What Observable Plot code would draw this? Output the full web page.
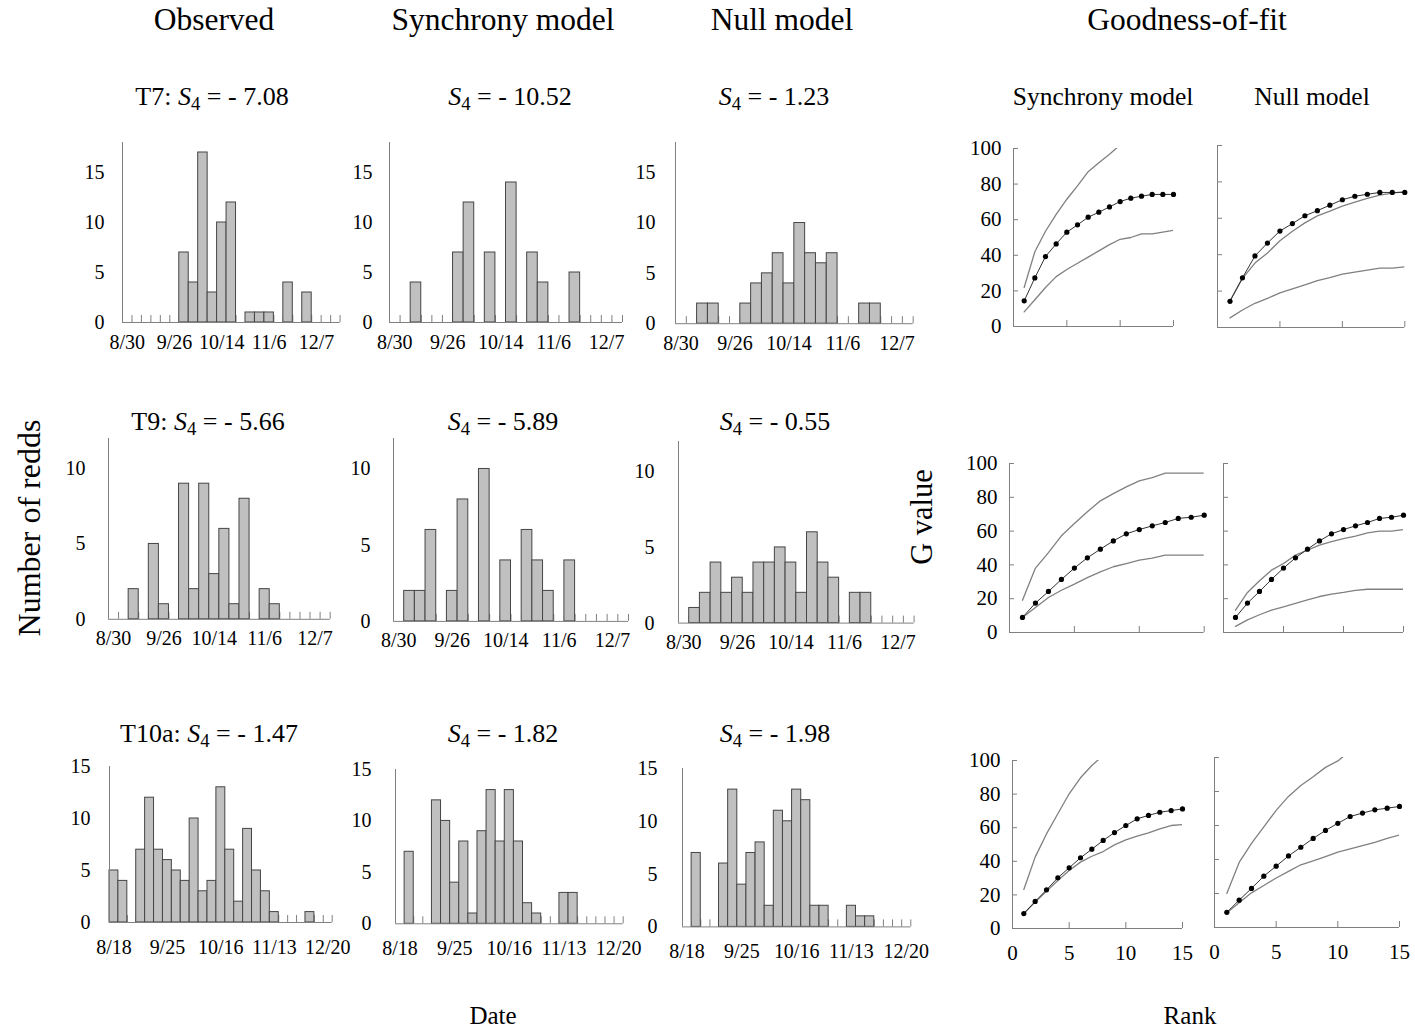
<!DOCTYPE html>
<html><head><meta charset="utf-8">
<script src="https://cdn.jsdelivr.net/npm/d3@7"></script>
<script src="https://cdn.jsdelivr.net/npm/@observablehq/plot@0.6"></script>
<style>
body{margin:0;background:#fff;}
#fig{position:relative;width:1415px;height:1033px;font-family:"Liberation Serif","Times New Roman",serif;color:#000;overflow:hidden;background:#fff;}
.t{position:absolute;white-space:nowrap;transform:translate(-50%,-50%);line-height:1;}
.v{position:absolute;white-space:nowrap;transform:translate(-50%,-50%) rotate(-90deg);line-height:1;}
.s4 i{font-style:italic;}
.s4 .sb{font-size:0.72em;position:relative;top:0.28em;}
</style></head><body><div id="fig"></div>
<script>
const FONT = '"Liberation Serif","Times New Roman",serif';

// ---------- Date tick labels ----------
const datesAugSep = ["8/30","9/26","10/14","11/6","12/7"];   // every 5th bin
const datesT10a   = ["8/18","9/25","10/16","11/13","12/20"]; // every 6th bin

// ---------- Histogram counts (number of redds per bin) ----------
const t7Observed  = [0,0,0,0,0,0,7,4,17,3,10,12,0,1,1,1,0,4,0,3,0,0,0];
const t7Synchrony = [0,0,4,0,0,0,7,12,0,7,0,14,0,7,4,0,0,5,0,0,0,0];
const t7Null      = [0,0,2,2,0,0,2,4,5,7,4,10,7,6,7,0,0,2,2,0,0,0];

const t9Observed  = [0,0,2,0,5,1,0,9,2,9,3,6,1,8,0,2,1,0,0,0,0,0];
const t9Synchrony = [0,2,2,6,0,2,8,0,10,0,4,0,6,4,2,0,4,0,0,0,0,0];
const t9Null      = [0,1,2,4,2,3,2,4,4,5,4,2,6,4,3,0,2,2,0,0,0,0];

const t10aObserved  = [5,4,0,7,12,7,6,5,4,10,3,4,13,7,2,9,5,3,1,0,0,0,1,0,0];
const t10aSynchrony = [0,7,0,0,12,10,4,8,1,9,13,8,13,8,2,1,0,0,3,3,0,0,0,0,0];
const t10aNull      = [0,7,0,0,6,13,4,7,8,2,11,10,13,12,2,2,0,0,2,1,1,0,0,0,0];

// ---------- Goodness-of-fit G values by rank (1..15) ----------
const t7GObserved   = [14.4,27.3,39.3,46.4,53,57.1,61.4,64.2,67.2,70.2,72.1,73.2,74.2,74.2,74.2];
const t7SynUpper    = [21.9,42,53.5,63,71.5,79,87,92,96.8,102];
const t7SynLower    = [8.2,15,21.9,28,32,35.5,39,42.5,46,49,50,52,52,53,54];
const t7NullUpper   = [14.7,27,35.4,40.9,47.7,52.9,57.5,61.3,63.9,66.7,68.9,70.9,72.7,73.8,74.6];
const t7NullLower   = [5.3,9.6,13.3,16,19,21.2,23.4,25.8,27.4,29.3,30.4,31.5,32.6,32.6,33.3];

const t9GObserved   = [8.9,17.4,24.3,31.4,38.1,44.2,49.3,54.2,58.4,60.9,63.1,65.1,67.5,68.2,69.4];
const t9SynUpper    = [19.1,38.1,47.3,57.2,64.5,71.4,77.9,82.2,86.2,89.7,91.7,94.3,94.3,94.3,94.3];
const t9SynLower    = [8.9,14.8,20.7,25,28.6,32.5,35.9,38.9,40.8,42.8,44,45.8,45.8,45.8,45.8];
const t9NullUpper   = [13.2,23.7,30.6,36.9,40.8,45.8,48.7,51.7,53.8,55.6,57,59,60,60,60.9];
const t9NullLower   = [3.6,7.5,10.5,13.2,15.2,17.2,19.3,21.3,22.7,23.7,24.9,25.6,25.6,25.6,25.6];

const t10aGObserved = [8.9,16.1,23,30.2,36.1,42.1,47.2,52.4,57.1,61.3,65.3,67.3,69.2,70.2,71.2];
const t10aSynUpper  = [23.2,42.5,56.3,68.3,80.2,89.7,97,103];
const t10aSynLower  = [8.9,15.7,22.2,28.6,34.5,39.5,43,45.8,49.8,52.8,55,56.9,59.3,61.3,61.9];
const t10aNullUpper = [20,38.3,49.5,59.2,68.9,77.1,83.5,88.7,94.2,98,104];
const t10aNullLower = [8.7,14.6,20.4,24.7,29.1,33,36.9,39.2,41.7,44.3,46.2,48.2,50.1,52.4,54.4];

const fig = document.getElementById("fig");
const AX = "#7f7f7f";

function place(svg, left, top){
  svg.style.position = "absolute";
  svg.style.left = left + "px";
  svg.style.top = top + "px";
  fig.appendChild(svg);
}

function hist(values, labels, every, yMax, yTicks, x0, x1, y0, yTop, labelDy, pad){
  const n = values.length;
  const data = values.map((v,i)=>({i, v})).filter(d=>d.v>0);
  const edges = d3.range(1, n+1);
  const lab = labels.map((l,k)=>({pos: k*every + 0.5, l}));
  const ml=55, mr=16, mt=10, mb=45;
  const W = x1-x0, H = y0-yTop;
  const svg = Plot.plot({
    width: W+ml+mr, height: H+mt+mb,
    marginLeft: ml, marginRight: mr, marginTop: mt, marginBottom: mb,
    style: {fontFamily: FONT, fontSize: "20px", background: "transparent", color: "#000", overflow: "visible"},
    x: {domain: [0,n], axis: null},
    y: {domain: [0,yMax], axis: null},
    marks: [
      Plot.tickX(edges, {x: d=>d, stroke: AX, strokeWidth: 1, insetTop: H-7}),
      Plot.rect(data, {x1: "i", x2: d=>d.i+1, y1: 0, y2: "v", fill: "#c0c0c0", stroke: "#454545", strokeWidth: 1}),
      Plot.ruleY([0], {stroke: AX}),
      Plot.ruleX([0], {stroke: AX}),
      Plot.axisY(yTicks, {tickSize: 0, tickPadding: pad, label: null, fill: "#000", fontSize: 20}),
      Plot.text(lab, {x: "pos", y: ()=>0, text: "l", dy: labelDy, lineAnchor: "middle", fill: "#000", fontSize: 20})
    ]
  });
  place(svg, x0-ml, yTop-mt);
}

function gof(obs, upper, lower, x0, x15, y0, y100, yLabels, xLabels){
  const ml=55, mr=16, mt=10, mb=45;
  const W = x15-x0, H = y0-y100;
  const svg = Plot.plot({
    width: W+ml+mr, height: H+mt+mb,
    marginLeft: ml, marginRight: mr, marginTop: mt, marginBottom: mb,
    style: {fontFamily: FONT, fontSize: "21px", background: "transparent", color: "#000", overflow: "visible"},
    x: {domain: [0,15], axis: null},
    y: {domain: [0,100], axis: null},
    marks: [
      Plot.ruleY([0], {stroke: AX}),
      Plot.ruleX([0], {stroke: AX}),
      Plot.tickX([5,10,15], {x: d=>d, stroke: AX, insetTop: H-6}),
      Plot.tickY([20,40,60,80,100], {y: d=>d, stroke: AX, insetRight: W-5}),
      Plot.line(upper, {x: (d,i)=>i+1, y: d=>d, stroke: "#808080", strokeWidth: 1.3, clip: true}),
      Plot.line(lower, {x: (d,i)=>i+1, y: d=>d, stroke: "#808080", strokeWidth: 1.3, clip: true}),
      Plot.line(obs, {x: (d,i)=>i+1, y: d=>d, stroke: "#333", strokeWidth: 1}),
      Plot.dot(obs, {x: (d,i)=>i+1, y: d=>d, r: 2.6, fill: "#000", stroke: "none"}),
      yLabels ? Plot.axisY([0,20,40,60,80,100], {tickSize: 0, tickPadding: 12, label: null, fill: "#000", fontSize: 21}) : null,
      xLabels ? Plot.text([0,5,10,15], {x: d=>d, y: ()=>0, text: d=>String(d), dy: 25, lineAnchor: "middle", fill: "#000", fontSize: 21}) : null
    ]
  });
  place(svg, x0-ml, y100-mt);
}

// Row T7
hist(t7Observed,  datesAugSep, 5, 18, [0,5,10,15], 121.7, 339.3, 321.7, 141.7, 20, 18);
hist(t7Synchrony, datesAugSep, 5, 18, [0,5,10,15], 389.3, 622.3, 321.7, 141.7, 20, 17);
hist(t7Null,      datesAugSep, 5, 18, [0,5,10,15], 675,   912.7, 322.7, 141.5, 20, 20);
// Row T9
hist(t9Observed,  datesAugSep, 5, 12, [0,5,10], 108.3, 330,   619,   438.2, 19.5, 23);
hist(t9Synchrony, datesAugSep, 5, 12, [0,5,10], 393.3, 628.3, 620.7, 437.8, 19.5, 23);
hist(t9Null,      datesAugSep, 5, 12, [0,5,10], 677.7, 913.3, 622.3, 440.7, 19.5, 24);
// Row T10a
hist(t10aObserved,  datesT10a, 6, 15, [0,5,10,15], 109.3, 332,   921.7, 765.7, 25, 19);
hist(t10aSynchrony, datesT10a, 6, 15, [0,5,10,15], 395,   622.7, 923.3, 769,   25, 24);
hist(t10aNull,      datesT10a, 6, 15, [0,5,10,15], 681.7, 910,   926.7, 768.3, 25, 25);

// Goodness-of-fit
gof(t7GObserved, t7SynUpper, t7SynLower,   1013.3, 1173.3, 325.7, 147.7, true, false);
gof(t7GObserved, t7NullUpper, t7NullLower, 1216.7, 1404,   327.3, 145.3, false, false);
gof(t9GObserved, t9SynUpper, t9SynLower,   1009.3, 1204,   631.7, 462.7, true, false);
gof(t9GObserved, t9NullUpper, t9NullLower, 1223.3, 1403.3, 631.7, 462.7, false, false);
gof(t10aGObserved, t10aSynUpper, t10aSynLower,   1012.3, 1182.3, 928,   760,   true, true);
gof(t10aGObserved, t10aNullUpper, t10aNullLower, 1214.3, 1399.3, 926.7, 756.7, false, true);

// ---------- Text ----------
function txt(html, x, y, size, cls){
  const d = document.createElement("div");
  d.className = cls || "t";
  d.style.left = x + "px"; d.style.top = y + "px"; d.style.fontSize = size + "px";
  d.innerHTML = html;
  fig.appendChild(d);
}
const S4 = '<span class="s4"><i>S</i><span class="sb">4</span></span>';

txt("Observed", 214, 20, 31.5);
txt("Synchrony model", 503, 20, 31.5);
txt("Null model", 782, 20, 31.5);
txt("Goodness-of-fit", 1187, 20, 31.5);

txt("T7: " + S4 + " = - 7.08", 212, 97, 26);
txt(S4 + " = - 10.52", 510, 97, 26);
txt(S4 + " = - 1.23", 774, 97, 26);
txt("Synchrony model", 1103, 97, 25.5);
txt("Null model", 1312, 97, 25.5);

txt("T9: " + S4 + " = - 5.66", 208, 422, 26);
txt(S4 + " = - 5.89", 503, 422, 26);
txt(S4 + " = - 0.55", 775, 422, 26);

txt("T10a: " + S4 + " = - 1.47", 209, 734, 26);
txt(S4 + " = - 1.82", 503, 734, 26);
txt(S4 + " = - 1.98", 775, 734, 26);

txt("Number of redds", 29, 528, 32, "v");
txt("G value", 922, 517, 30.5, "v");
txt("Date", 493, 1015, 25);
txt("Rank", 1190, 1015, 25);
</script></body></html>
